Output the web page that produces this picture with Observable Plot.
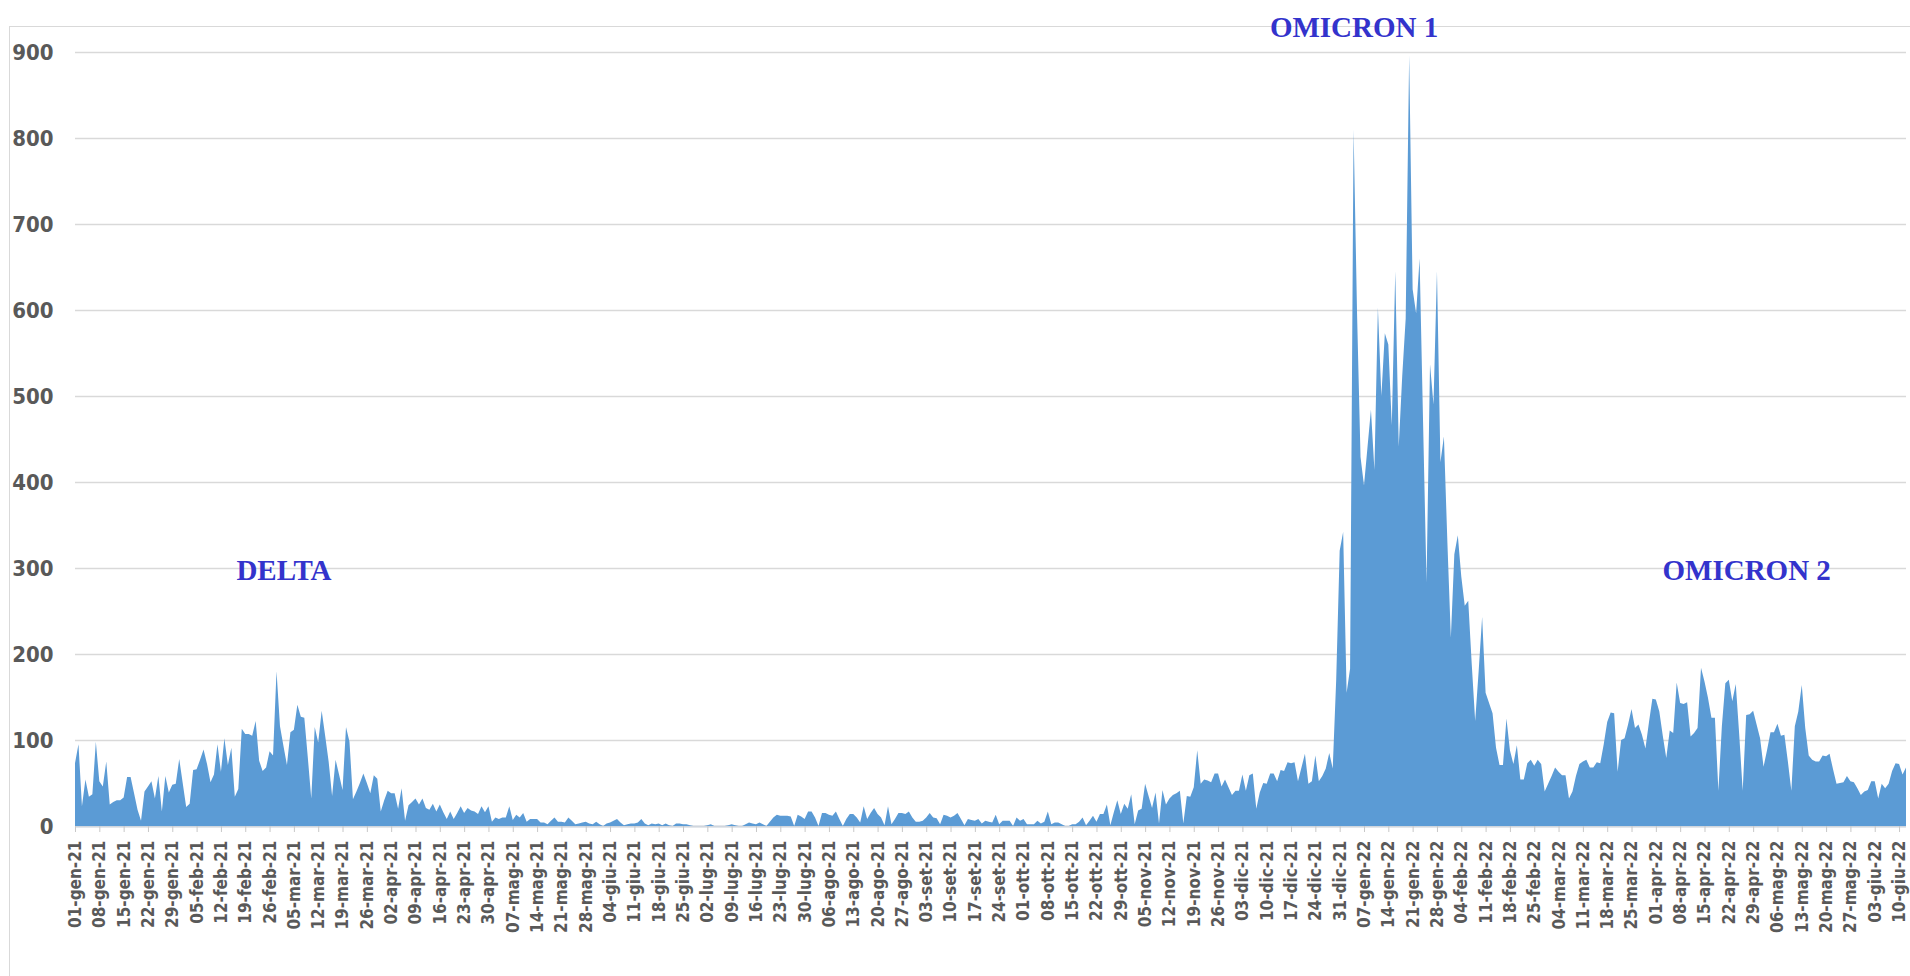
<!DOCTYPE html>
<html>
<head>
<meta charset="utf-8">
<script src="https://cdn.jsdelivr.net/npm/d3@7"></script>
<script src="https://cdn.jsdelivr.net/npm/@observablehq/plot@0.6"></script>
<style>
  html, body { margin: 0; padding: 0; background: #fff; }
  #wrap { position: relative; width: 1910px; height: 976px; overflow: hidden; }
  #frame { position: absolute; left: 9px; top: 26px; right: -10px; bottom: -10px;
           border-left: 1.5px solid #d9d9d9; border-top: 1.5px solid #d9d9d9; }
  #chart { position: absolute; left: 0; top: 0; }
</style>
</head>
<body>
<div id="wrap"><div id="frame"></div><div id="chart"></div></div>
<script>
// Daily series starting 01-gen-21 (one value per day)
const startYear = 2021, startMonth = 0, startDay = 1;
const values = [
73,95,23,54,34,37,98,52,46,75,25,28,30,30,33,57,57,38,19,6,
40,46,52,32,58,17,58,39,48,49,78,50,22,26,65,66,77,89,72,51,
60,95,63,102,71,91,34,43,113,107,107,105,122,76,64,68,87,82,180,116,
93,71,109,112,141,127,126,80,32,115,97,134,105,75,35,77,60,42,115,98,
31,40,50,61,50,38,59,55,17,30,41,38,38,20,44,6,24,28,32,25,
32,21,19,26,17,25,16,8,17,8,15,23,15,21,18,17,14,23,16,23,
5,10,8,10,10,23,7,13,10,15,5,8,8,8,4,4,2,6,10,5,
5,4,10,6,2,3,4,5,3,2,5,2,0,3,4,6,8,4,1,2,
3,3,4,8,3,1,3,2,3,1,3,1,0,3,3,2,2,1,0,0,
0,0,1,2,0,0,0,0,1,2,1,0,0,2,4,3,2,4,2,0,
5,10,13,12,12,12,11,0,13,11,8,17,17,10,0,15,15,13,12,17,
8,0,8,14,14,10,4,23,8,15,21,14,10,1,23,2,8,15,15,14,
17,10,5,5,6,10,15,10,9,2,13,12,10,12,15,8,1,8,7,6,
8,3,6,5,4,13,2,6,6,6,0,10,6,8,2,2,2,6,3,5,
17,2,4,4,2,0,0,2,2,5,10,1,6,12,5,14,14,25,1,16,
30,14,26,20,37,2,18,20,49,35,21,39,3,42,25,32,36,38,41,3,
35,34,45,88,49,54,53,51,61,61,46,54,45,36,41,41,60,41,59,61,
20,39,50,49,61,61,52,65,64,74,73,74,52,68,84,49,52,82,52,58,
67,85,67,170,320,342,155,183,810,596,429,396,440,484,414,603,500,573,560,466,
645,441,523,590,896,624,596,660,470,283,537,490,645,423,453,330,219,316,338,290,
256,262,189,122,180,243,155,143,131,91,71,71,125,88,72,94,54,54,73,77,
70,77,72,40,49,58,68,63,59,59,32,40,58,72,75,77,68,68,74,73,
95,121,132,131,63,100,102,118,136,114,118,106,90,120,148,147,133,105,79,111,
108,167,143,142,144,104,108,114,184,168,149,126,126,41,116,166,170,145,165,106,
41,129,130,134,118,102,69,88,109,109,119,105,106,75,41,116,133,164,114,82,
77,75,75,82,81,84,66,49,50,51,58,52,51,44,36,40,42,52,52,32,
49,44,49,64,73,72,60,68
];
const monthsIt = ["gen","feb","mar","apr","mag","giu","lug","ago","set","ott","nov","dic"];
const yTicks = [0,100,200,300,400,500,600,700,800,900];
const tickEveryDays = 7;
const lastTickDay = 525; // 10-giu-22
const annotations = [
  {label: "DELTA",     day: 60,  value: 298},
  {label: "OMICRON 1", day: 368, value: 929},
  {label: "OMICRON 2", day: 481, value: 298}
];

const dayToDate = i => new Date(Date.UTC(startYear, startMonth, startDay + i));
const data = values.map((v, i) => ({date: dayToDate(i), value: v}));
const xTicks = d3.range(0, lastTickDay + 1, tickEveryDays).map(dayToDate);
const fmt = d => String(d.getUTCDate()).padStart(2, "0") + "-" + monthsIt[d.getUTCMonth()] + "-" + String(d.getUTCFullYear()).slice(2);
const ann = annotations.map(a => ({...a, date: dayToDate(a.day)}));

const narrow = "'Liberation Sans Narrow', 'Arial Narrow', 'DejaVu Sans Condensed', sans-serif";

const chart = Plot.plot({
  width: 1910,
  height: 976,
  marginLeft: 75,
  marginRight: 4,
  marginTop: 52,
  marginBottom: 150,
  style: {fontFamily: narrow, background: "transparent", overflow: "visible"},
  x: {type: "utc", domain: [data[0].date, data[data.length - 1].date]},
  y: {domain: [0, 900]},
  marks: [
    Plot.gridY({ticks: yTicks, stroke: "#d9d9d9", strokeOpacity: 1, strokeWidth: 1.5}),
    Plot.ruleY([0], {stroke: "#d0d6de", strokeWidth: 2}),
    Plot.areaY(data, {x: "date", y: "value", fill: "#5b9bd5", curve: "linear"}),
    Plot.axisY({ticks: yTicks, tickSize: 0, tickPadding: 22, fontSize: 22, fontWeight: "bold",
                fill: "#595959", label: null}),
    Plot.axisX({ticks: xTicks, tickFormat: fmt, tickRotate: -90, tickSize: 6, tickPadding: 8,
                fontSize: 17, fontWeight: "bold", fill: "#595959", stroke: "#c8c8c8", label: null}),
    Plot.text(ann, {x: "date", y: "value", text: "label", fill: "#3333cc", fontSize: 29,
                    fontWeight: "bold", fontFamily: "'Liberation Serif', 'DejaVu Serif', serif"})
  ]
});
document.getElementById("chart").appendChild(chart);
</script>
</body>
</html>
